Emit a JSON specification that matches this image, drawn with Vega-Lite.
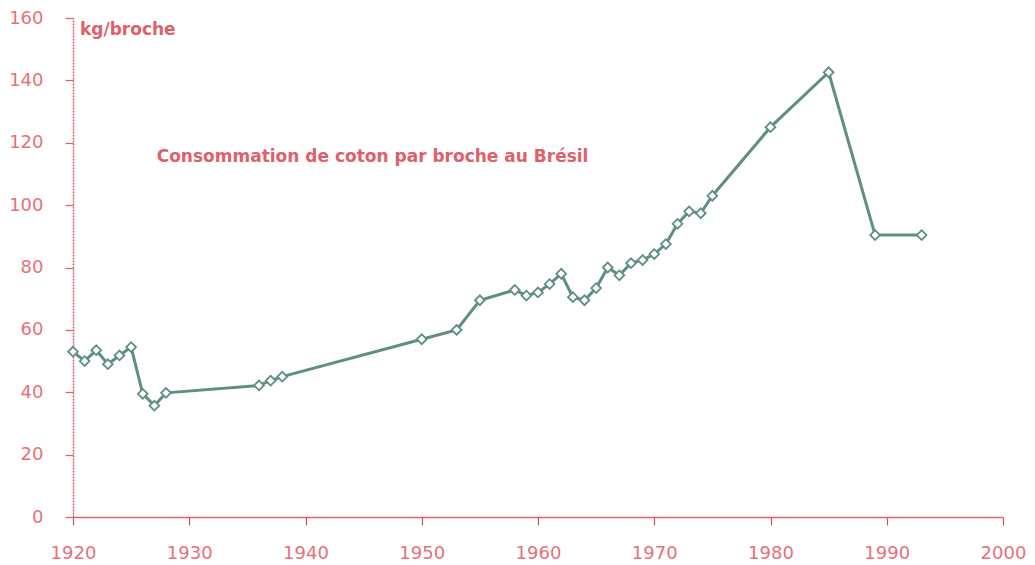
{
  "$schema": "https://vega.github.io/schema/vega-lite/v6.json",
  "width": 930,
  "height": 499,
  "autosize": "none",
  "padding": {"left": 73, "top": 18, "right": 32, "bottom": 48},
  "background": "white",
  "config": {"view": {"stroke": null}},
  "data": {"values": [
    {"year": 1920, "kg": 53},
    {"year": 1921, "kg": 50},
    {"year": 1922, "kg": 53.5},
    {"year": 1923, "kg": 49},
    {"year": 1924, "kg": 51.8},
    {"year": 1925, "kg": 54.5},
    {"year": 1926, "kg": 39.5},
    {"year": 1927, "kg": 35.7},
    {"year": 1928, "kg": 39.8},
    {"year": 1936, "kg": 42.2},
    {"year": 1937, "kg": 43.7},
    {"year": 1938, "kg": 45},
    {"year": 1950, "kg": 57},
    {"year": 1953, "kg": 60},
    {"year": 1955, "kg": 69.5},
    {"year": 1958, "kg": 72.8},
    {"year": 1959, "kg": 71},
    {"year": 1960, "kg": 72},
    {"year": 1961, "kg": 74.7},
    {"year": 1962, "kg": 78},
    {"year": 1963, "kg": 70.5},
    {"year": 1964, "kg": 69.5},
    {"year": 1965, "kg": 73.4},
    {"year": 1966, "kg": 80},
    {"year": 1967, "kg": 77.5},
    {"year": 1968, "kg": 81.4},
    {"year": 1969, "kg": 82.4},
    {"year": 1970, "kg": 84.3},
    {"year": 1971, "kg": 87.5},
    {"year": 1972, "kg": 94},
    {"year": 1973, "kg": 98},
    {"year": 1974, "kg": 97.4},
    {"year": 1975, "kg": 103},
    {"year": 1980, "kg": 125},
    {"year": 1985, "kg": 142.6},
    {"year": 1989, "kg": 90.4},
    {"year": 1993, "kg": 90.4}
  ]},
  "encoding": {
    "x": {
      "field": "year", "type": "quantitative",
      "scale": {"domain": [1920, 2000], "nice": false, "zero": false},
      "axis": {
        "title": null, "values": [1920, 1930, 1940, 1950, 1960, 1970, 1980, 1990, 2000],
        "format": "d", "grid": false, "labelFlush": false, "labelOverlap": false,
        "domainColor": "#e0606a", "domainWidth": 1.5,
        "tickColor": "#c85060", "tickSize": 8, "tickWidth": 1.2,
        "labelColor": "#e8707a", "labelFont": "DejaVu Sans", "labelFontSize": 18,
        "labelPadding": 19
      }
    },
    "y": {
      "field": "kg", "type": "quantitative",
      "scale": {"domain": [0, 160], "nice": false},
      "axis": {
        "title": null, "values": [0, 20, 40, 60, 80, 100, 120, 140, 160],
        "grid": false, "labelFlush": false, "labelOverlap": false,
        "domainColor": "#d9626b", "domainWidth": 1.5, "domainDash": [2, 1],
        "tickColor": "#e0606a", "tickSize": 8, "tickWidth": 1.2,
        "labelColor": "#e8707a", "labelFont": "DejaVu Sans", "labelFontSize": 18,
        "labelPadding": 22
      }
    }
  },
  "layer": [
    {
      "mark": {"type": "line", "color": "#5e8e86", "strokeWidth": 3}
    },
    {
      "mark": {"type": "point", "shape": "diamond", "filled": true, "fill": "white", "stroke": "#5e8e86", "strokeWidth": 1.8, "size": 95, "opacity": 1}
    },
    {
      "data": {"values": [
        {"year": 1927.2, "kg": 115.5, "label": "Consommation de coton par broche au Brésil"},
        {"year": 1920.6, "kg": 156.2, "label": "kg/broche"}
      ]},
      "mark": {"type": "text", "align": "left", "baseline": "middle", "font": "DejaVu Sans", "fontSize": 17, "fontWeight": "bold", "color": "#e0606a"},
      "encoding": {
        "text": {"field": "label", "type": "nominal"}
      }
    }
  ]
}
